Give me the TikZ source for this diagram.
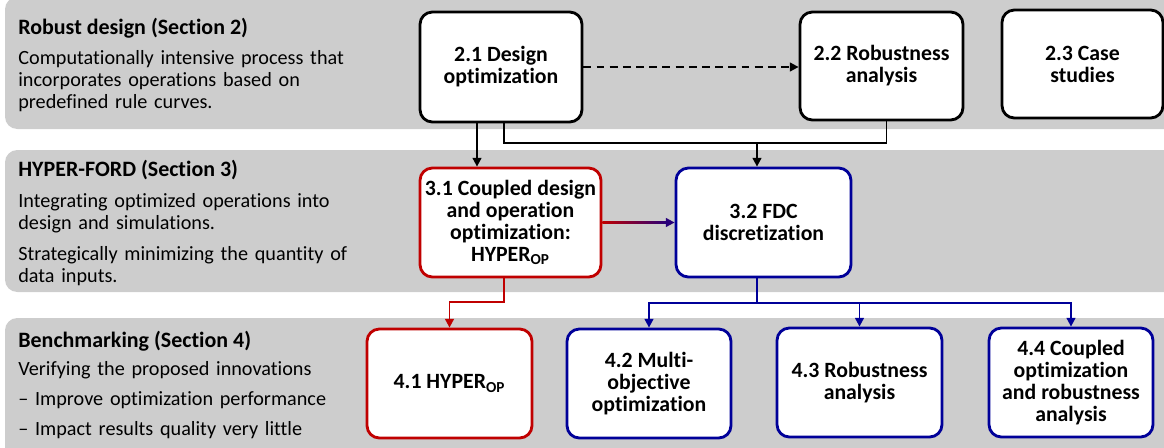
\documentclass[tikz,border=0pt]{standalone}
\usepackage{fontspec}
\setmainfont{Carlito}[Ligatures=NoCommon]
\usetikzlibrary{arrows.meta}
\usetikzlibrary{calc}
\definecolor{bandgray}{RGB}{205,205,205}
\definecolor{hfred}{RGB}{192,0,0}
\definecolor{hfblue}{RGB}{0,0,153}
\tikzset{band/.style = {fill=bandgray, rounded corners=7pt},
         stage/.style = {draw, fill=white, line width=1.6pt, rounded corners=7pt,
                         align=center, inner sep=0pt,
                         font=\bfseries\fontsize{12.4}{12.5}\selectfont},
         link/.style = {line width=1.1pt},
         flow/.style = {link, -{Triangle[length=5pt,width=5pt]}},
         bandtitle/.style = {anchor=base west, inner sep=0pt,
                             font=\bfseries\fontsize{12.5}{15}\selectfont},
         bandtext/.style = {anchor=north west, inner sep=0pt, align=left, text width=6.8cm,
                            font=\fontsize{11.5}{12.5}\selectfont}}

\begin{document}
\begin{tikzpicture}[x=0.02cm, y=-0.02cm]
    \useasboundingbox (0,0) rectangle (1164,447);
    \clip (0,0) rectangle (1164,447);

    \fill[band] (5,-3) rectangle (1180,129);
    \fill[band] (5,150) rectangle (1180,292);
    \fill[band] (5,318) rectangle (1180,460);

    \node[bandtitle] (t2) at (18,34) {Robust design (Section 2)};
    \node[bandtext] (x2) at (18,50) {Computationally intensive process that\\
      incorporates operations based on\\ predefined rule curves.};
    \node[bandtitle] (t3) at (18,176) {HYPER-FORD (Section 3)};
    \node[bandtext] (x3) at (18,193) {Integrating optimized operations into\\
      design and simulations.\\[5pt] Strategically minimizing the quantity of\\ data inputs.};
    \node[bandtitle] (t4) at (18,347) {Benchmarking (Section 4)};
    \node[bandtext] (x4) at (18,361) {Verifying the proposed innovations\\[4.5pt]
      – Improve optimization performance\\[4.5pt] – Impact results quality very little};

    \node[stage, minimum width=3.24cm, minimum height=2.2cm] (d21) at (501,67) {2.1 Design\\ optimization};
    \node[stage, minimum width=3.26cm, minimum height=2.16cm] (d22) at (881.5,66) {2.2 Robustness\\ analysis};
    \node[stage, minimum width=3.22cm, minimum height=2.16cm] (d23) at (1082.5,64) {2.3 Case\\ studies};

    \node[stage, draw=hfred, minimum width=3.62cm, minimum height=2.18cm] (h31) at (510.5,222.5)
      {3.1 Coupled design\\ and operation\\ optimization:\\ HYPER\textsubscript{OP}};
    \node[stage, draw=hfblue, minimum width=3.5cm, minimum height=2.18cm] (h32) at (763.5,222.5)
      {3.2 FDC\\ discretization};

    \node[stage, draw=hfred, minimum width=3.3cm, minimum height=2.18cm] (b41) at (449.5,383.5)
      {4.1 HYPER\textsubscript{OP}};
    \node[stage, draw=hfblue, minimum width=3.28cm, minimum height=2.18cm] (b42) at (649,383.5)
      {4.2 Multi-\\ objective\\ optimization};
    \node[stage, draw=hfblue, minimum width=3.3cm, minimum height=2.18cm] (b43) at (859.5,382.5)
      {4.3 Robustness\\ analysis};
    \node[stage, draw=hfblue, minimum width=3.28cm, minimum height=2.18cm] (b44) at (1071,382.5)
      {4.4 Coupled\\ optimization\\ and robustness\\ analysis};

    \draw[flow, dash pattern=on 4.5pt off 3pt] (d21.east) -- (d21.east -| d22.west);
    \draw[flow] ([xshift=-0.48cm]d21.south) -- ([xshift=-0.48cm]d21.south |- h31.north);

    \coordinate (h32in) at ([xshift=-0.13cm]h32.north);
    \coordinate (merge) at (h32in |- 0,143);
    \draw[link] ([xshift=0.06cm]d21.south) |- (merge);
    \draw[link] ([xshift=0.1cm]d22.south) |- (merge);
    \draw[flow] (merge) -- (h32in);

    \shade[left color=hfred, right color=hfblue!80!hfred]
      ($(h31.east)+(0,-0.55pt)$) rectangle ($(h32.west)+(-4pt,0.55pt)$);
    \draw[flow, hfblue!80!hfred] ($(h31.east)!0.9!(h32.west)$) -- (h32.west);

    \draw[flow, hfred] ([xshift=-0.13cm]h31.south) |- ([yshift=0.52cm]b41.north) -- (b41.north);

    \coordinate (h32out) at ([xshift=-0.13cm]h32.south);
    \coordinate (fork) at (h32out |- 0,303);
    \draw[link, hfblue] (h32out) -- (fork);
    \foreach \n in {b42,b43,b44} {
      \draw[flow, hfblue] (fork) -| (\n.north);
    }
\end{tikzpicture}
\end{document}
